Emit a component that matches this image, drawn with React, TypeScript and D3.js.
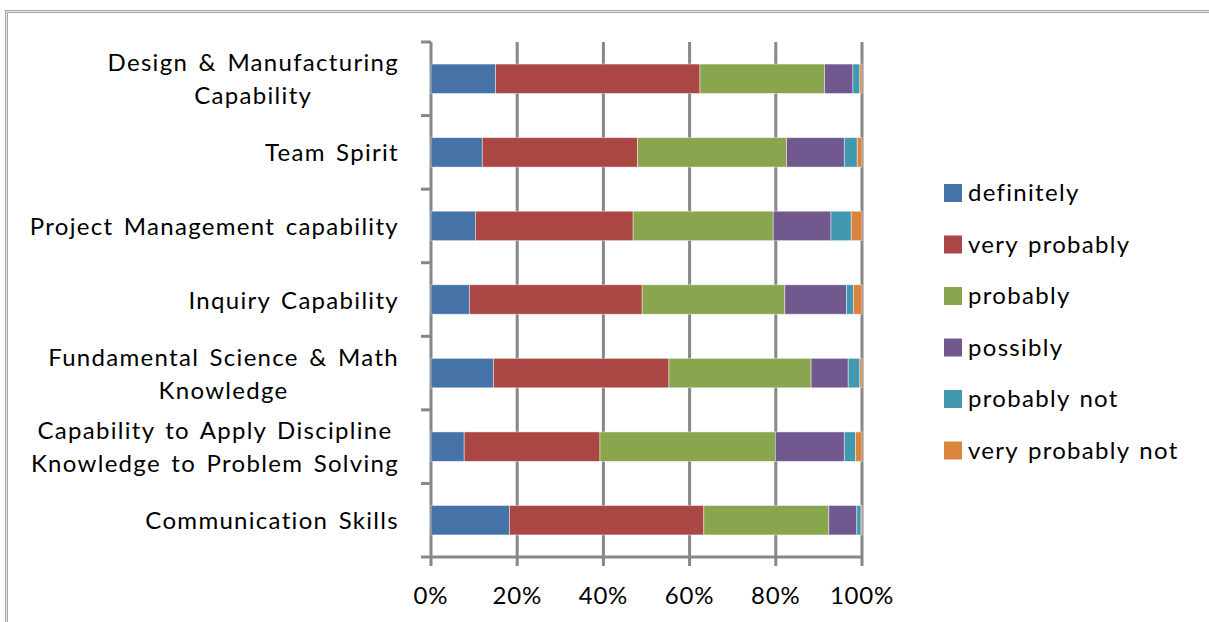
import React, { useEffect, useRef } from "react";
import * as d3 from "d3";

const categories = [
  "Design & Manufacturing\nCapability",
  "Team Spirit",
  "Project Management capability",
  "Inquiry Capability",
  "Fundamental Science & Math\nKnowledge",
  "Capability to Apply Discipline\nKnowledge to Problem Solving",
  "Communication Skills",
];

const seriesNames = [
  "definitely",
  "very probably",
  "probably",
  "possibly",
  "probably not",
  "very probably not",
];

// percent per category, same order as categories
const definitely = [15.0, 11.9, 10.3, 8.9, 14.5, 7.7, 18.2];
const veryProbably = [47.4, 36.0, 36.6, 40.1, 40.7, 31.5, 45.1];
const probably = [28.9, 34.6, 32.5, 33.1, 33.0, 40.7, 29.0];
const possibly = [6.6, 13.4, 13.4, 14.3, 8.6, 16.0, 6.5];
const probablyNot = [1.6, 3.0, 4.7, 1.6, 2.7, 2.6, 1.0];
const veryProbablyNot = [0.5, 1.1, 2.5, 2.0, 0.5, 1.5, 0.2];

const xTicks = [0, 0.2, 0.4, 0.6, 0.8, 1];
const colors = ["#4572A7", "#AA4643", "#89A54E", "#71588F", "#4198AF", "#DB843D"];

const App: React.FC = () => {
  const svgRef = useRef<SVGSVGElement | null>(null);

  useEffect(() => {
    if (!svgRef.current) return;
    const svg = d3.select(svgRef.current);
    svg.selectAll("*").remove();

    const width = 1209;
    const height = 622;
    const font = "Lato, 'Open Sans', sans-serif";
    const plot = { left: 431, right: 862, top: 42, bottom: 557 };

    svg.attr("width", width).attr("height", height);

    // chart frame
    svg.append("path")
      .attr("d", `M6.5,${height + 5} V11.5 H${width + 5}`)
      .attr("fill", "none")
      .attr("stroke", "#a8a8a8")
      .attr("stroke-width", 3);
    svg.append("path")
      .attr("d", `M6.5,${height + 5} V11.5 H${width + 5}`)
      .attr("fill", "none")
      .attr("stroke", "#e6e6e6")
      .attr("stroke-width", 1);

    const rows = categories.map((c, i) => ({
      name: c,
      values: [
        definitely[i],
        veryProbably[i],
        probably[i],
        possibly[i],
        probablyNot[i],
        veryProbablyNot[i],
      ],
    }));

    const stack = d3
      .stack<{ name: string; values: number[] }, number>()
      .keys(d3.range(seriesNames.length))
      .value((d, k) => d.values[k])
      .offset(d3.stackOffsetExpand);
    const stacked = stack(rows);

    const x = d3.scaleLinear().domain([0, 1]).range([plot.left, plot.right]);
    const y = d3
      .scaleBand<string>()
      .domain(categories)
      .range([plot.top, plot.bottom])
      .paddingInner(0.6)
      .paddingOuter(0.3);

    const step = y.step();

    // gridlines
    svg.append("g")
      .selectAll("line")
      .data(xTicks)
      .enter()
      .append("line")
      .attr("x1", (d) => x(d))
      .attr("x2", (d) => x(d))
      .attr("y1", plot.top)
      .attr("y2", plot.bottom + 9)
      .attr("stroke", "#878787")
      .attr("stroke-width", 3);

    // bottom axis line
    svg.append("line")
      .attr("x1", plot.left)
      .attr("x2", plot.right)
      .attr("y1", plot.bottom)
      .attr("y2", plot.bottom)
      .attr("stroke", "#878787")
      .attr("stroke-width", 3);

    // left ticks at category boundaries
    svg.append("g")
      .selectAll("line")
      .data(d3.range(categories.length + 1))
      .enter()
      .append("line")
      .attr("x1", plot.left - 10)
      .attr("x2", plot.left)
      .attr("y1", (i) => plot.top + i * step)
      .attr("y2", (i) => plot.top + i * step)
      .attr("stroke", "#878787")
      .attr("stroke-width", 3);

    // bars
    svg.append("g")
      .selectAll("g")
      .data(stacked)
      .enter()
      .append("g")
      .attr("fill", (d) => colors[d.key])
      .selectAll("rect")
      .data((d) => d)
      .enter()
      .append("rect")
      .attr("x", (d) => x(d[0]))
      .attr("y", (d) => y(d.data.name)!)
      .attr("width", (d) => x(d[1]) - x(d[0]))
      .attr("height", y.bandwidth())
      .attr("stroke", "#ffffff")
      .attr("stroke-opacity", 0.55)
      .attr("stroke-width", 0.8);

    // x tick labels
    svg.append("g")
      .selectAll("text")
      .data(xTicks)
      .enter()
      .append("text")
      .attr("x", (d) => x(d))
      .attr("y", 604)
      .attr("text-anchor", "middle")
      .attr("font-family", font)
      .attr("font-size", 24)
      .attr("letter-spacing", 0.8)
      .attr("fill", "#000")
      .text((d) => `${Math.round(d * 100)}%`);

    // category labels
    const labelRight = 399;
    const lineGap = 33;
    categories.forEach((c) => {
      const lines = c.split("\n");
      const cy = y(c)! + y.bandwidth() / 2;
      const g = svg.append("g");
      const texts = lines.map((ln, j) =>
        g.append("text")
          .attr("y", cy + 9 + (j - (lines.length - 1) / 2) * lineGap)
          .attr("font-family", font)
          .attr("font-size", 24)
          .attr("letter-spacing", 1.3)
          .attr("word-spacing", 3)
          .attr("fill", "#000")
          .text(ln)
      );
      const widths = texts.map((t) => (t.node() as SVGTextElement).getComputedTextLength());
      const maxW = d3.max(widths) || 0;
      texts.forEach((t) => t.attr("text-anchor", "middle").attr("x", labelRight - maxW / 2));
    });

    // legend
    const legend = svg.append("g");
    seriesNames.forEach((s, i) => {
      const ly = 184 + i * 51.5;
      legend.append("rect")
        .attr("x", 944)
        .attr("y", ly)
        .attr("width", 18)
        .attr("height", 18)
        .attr("fill", colors[i]);
      legend.append("text")
        .attr("x", 968)
        .attr("y", ly + 17)
        .attr("font-family", font)
        .attr("font-size", 24)
        .attr("letter-spacing", 1.3)
        .attr("word-spacing", 2)
        .attr("fill", "#000")
        .text(s);
    });
  }, []);

  return <svg ref={svgRef} style={{ position: "absolute", left: 0, top: 0 }}></svg>;
};

export default App;
